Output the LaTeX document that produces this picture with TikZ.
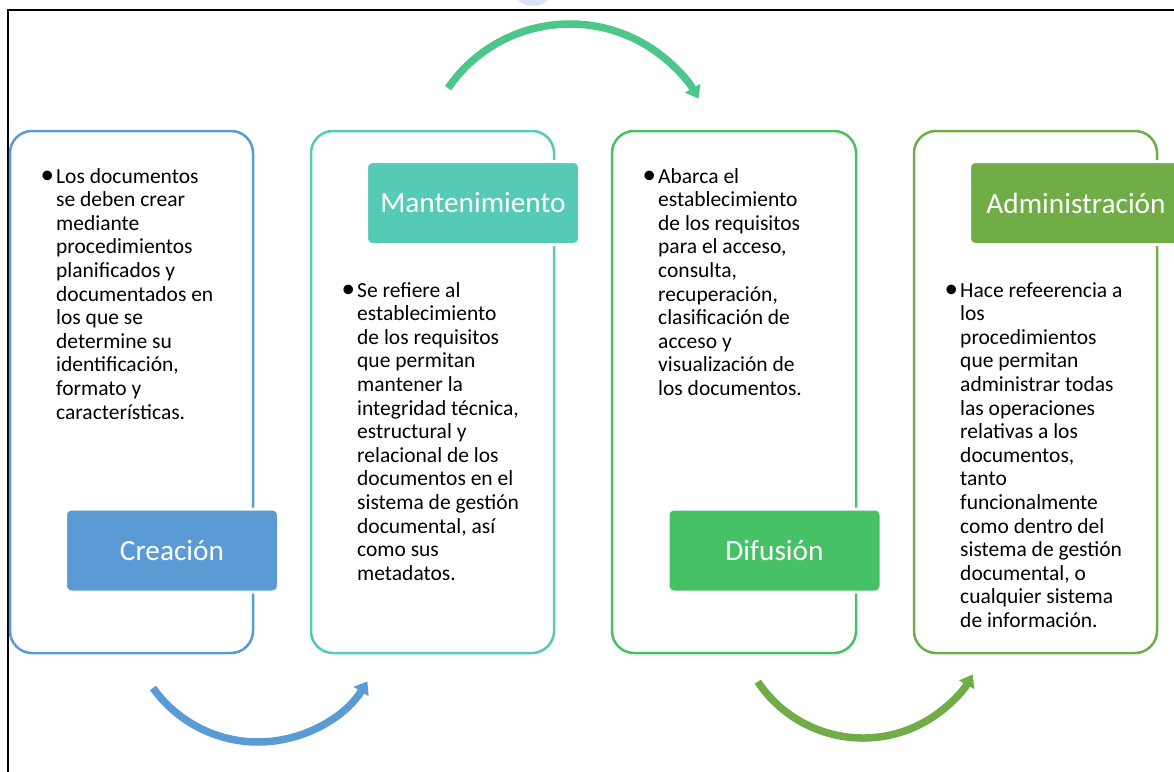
\documentclass[tikz,border=0pt]{standalone}
\usepackage{fontspec}
\setmainfont{Carlito}
\usetikzlibrary{arrows.meta}
\definecolor{cblue}{HTML}{5B9BD5}
\definecolor{cteal}{HTML}{55CAB7}
\definecolor{cgreen}{HTML}{47C166}
\definecolor{colive}{HTML}{70AD47}
\definecolor{carrowtop}{HTML}{4DC68A}
\definecolor{cwater}{HTML}{DCE3F3}
\tikzset{
  outerbox/.style={draw=#1, line width=2.5pt, rounded corners=22pt},
  labelbox/.style={fill=#1, draw=white, line width=3pt, rounded corners=6pt, text=white,
    font=\fontsize{29.3}{34}\selectfont, minimum width=213pt, minimum height=83pt, inner sep=0pt},
  bodytext/.style={anchor=base west, inner sep=0pt, font=\fontsize{21.5}{23.6}\selectfont},
  flowarrow/.style={draw=#1, line width=7.5pt, -{Triangle[length=12pt,width=17pt]}},
}
\newcommand{\bul}[1]{\begin{tabular}[t]{@{}p{11pt}@{}l@{}}#1\end{tabular}}
\newcommand{\bdot}{\hspace*{-4.5pt}{\fontsize{27}{20}\selectfont •}}
\begin{document}
\begin{tikzpicture}[x=1pt,y=-1pt]
\useasboundingbox (0,0) rectangle (1174,771);
\clip (0,0) rectangle (1174,771);
% faint mark at top
\draw[cwater, line width=6pt] (533,-16) circle (19);
% frame
\draw[line width=2pt] (1180,10) -- (8,10) -- (8,780);
% outer boxes
\draw[outerbox=cblue] (10,131) rectangle (253,653);
\draw[outerbox=cteal] (311,131) rectangle (554,653);
\draw[outerbox=cgreen] (612,131) rectangle (856,653);
\draw[outerbox=colive] (914,131) rectangle (1157,653);
% labels
\node[labelbox=cblue] (creacion) at (172,550.5) {Creación};
\node[labelbox=cteal] (mant) at (473,203) {Mantenimiento};
\node[labelbox=cgreen] (difusion) at (774.5,550.5) {Difusión};
\node[labelbox=colive] (admin) at (1076,203) {Administración};
% body texts
\node[bodytext] (t1) at (45,183) {\bul{\bdot&Los documentos\\&se deben crear\\&mediante\\&procedimientos\\&planificados y\\&documentados en\\&los que se\\&determine su\\&identificación,\\&formato y\\&características.}};
\node[bodytext] (t2) at (346,297) {\bul{\bdot&Se refiere al\\&establecimiento\\&de los requisitos\\&que permitan\\&mantener la\\&integridad técnica,\\&estructural y\\&relacional de los\\&documentos en el\\&sistema de gestión\\&documental, así\\&como sus\\&metadatos.}};
\node[bodytext] (t3) at (647,183) {\bul{\bdot&Abarca el\\&establecimiento\\&de los requisitos\\&para el acceso,\\&consulta,\\&recuperación,\\&clasificación de\\&acceso y\\&visualización de\\&los documentos.}};
\node[bodytext] (t4) at (949,297) {\bul{\bdot&Hace refeerencia a\\&los\\&procedimientos\\&que permitan\\&administrar todas\\&las operaciones\\&relativas a los\\&documentos,\\&tanto\\&funcionalmente\\&como dentro del\\&sistema de gestión\\&documental, o\\&cualquier sistema\\&de información.}};
% arrows
\draw[flowarrow=cblue] (258,613) ++(144.5:129) arc[start angle=144.5, end angle=32, radius=129];
\draw[flowarrow=carrowtop] (570,172) ++(214.5:148) arc[start angle=214.5, end angle=330.3, radius=148];
\draw[flowarrow=colive] (863,611.6) ++(146.3:126.4) arc[start angle=146.3, end angle=29.8, radius=126.4];
\end{tikzpicture}
\end{document}
